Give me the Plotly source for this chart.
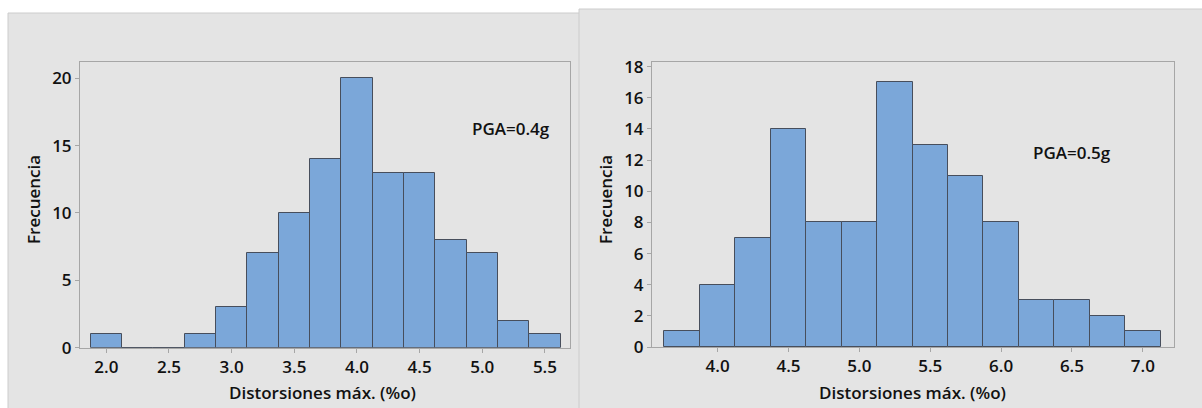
import plotly.graph_objects as go

W, H = 1202, 408

# Data (bin centers, width 0.25)
bins_04 = [2.0, 2.25, 2.5, 2.75, 3.0, 3.25, 3.5, 3.75, 4.0, 4.25, 4.5, 4.75, 5.0, 5.25, 5.5]
freq_04 = [1, 0, 0, 1, 3, 7, 10, 14, 20, 13, 13, 8, 7, 2, 1]
bins_05 = [3.75, 4.0, 4.25, 4.5, 4.75, 5.0, 5.25, 5.5, 5.75, 6.0, 6.25, 6.5, 6.75, 7.0]
freq_05 = [1, 4, 7, 14, 8, 8, 17, 13, 11, 8, 3, 3, 2, 1]
xticks_04 = [2.0, 2.5, 3.0, 3.5, 4.0, 4.5, 5.0, 5.5]
xticks_05 = [4.0, 4.5, 5.0, 5.5, 6.0, 6.5, 7.0]
yticks_04 = [0, 5, 10, 15, 20]
yticks_05 = [0, 2, 4, 6, 8, 10, 12, 14, 16, 18]
bin_width = 0.25
x_title = "Distorsiones máx. (%o)"
y_title = "Frecuencia"
labels = ["PGA=0.4g", "PGA=0.5g"]

FONT = "Open Sans"
bar_fill = "#7ba7d9"
bar_line = "#474e5c"
text_col = "#111111"

fig = go.Figure()
fig.add_trace(go.Bar(x=bins_04, y=freq_04, width=bin_width, marker=dict(color=bar_fill, line=dict(color=bar_line, width=1)),
                     xaxis="x", yaxis="y", showlegend=False, hoverinfo="x+y"))
fig.add_trace(go.Bar(x=bins_05, y=freq_05, width=bin_width, marker=dict(color=bar_fill, line=dict(color=bar_line, width=1)),
                     xaxis="x2", yaxis="y2", showlegend=False, hoverinfo="x+y"))

def px(v):
    return v / W

def py(v):
    return (H - v) / H

tickfont = dict(family=FONT, size=17, color=text_col, weight=600)
common_x = dict(showgrid=False, zeroline=False, showline=True, mirror=True, linecolor="#a6a6a6", linewidth=1,
                ticks="outside", ticklen=4, tickcolor="#a6a6a6", tickfont=tickfont, automargin=False, fixedrange=True)

lab_font = dict(family=FONT, size=17, color=text_col, weight=600)

fig.update_layout(
    width=W, height=H,
    margin=dict(l=0, r=0, t=0, b=0, pad=0),
    paper_bgcolor="white", plot_bgcolor="white",
    bargap=0,
    xaxis=dict(domain=[px(80), px(570)], range=[1.79, 5.70], tickvals=xticks_04,
               ticktext=[f"{v:.1f}" for v in xticks_04], anchor="y", **common_x),
    yaxis=dict(domain=[py(347.7), py(62)], range=[0, 21.2], tickvals=yticks_04, anchor="x", **common_x),
    xaxis2=dict(domain=[px(652), px(1174)], range=[3.537, 7.22], tickvals=xticks_05,
                ticktext=[f"{v:.1f}" for v in xticks_05], anchor="y2", **common_x),
    yaxis2=dict(domain=[py(347), py(62)], range=[0, 18.3], tickvals=yticks_05, anchor="x2", **common_x),
    shapes=[
        dict(type="rect", xref="paper", yref="paper", x0=px(8), x1=px(600), y0=-0.1, y1=py(13),
             fillcolor="#e4e4e4", line=dict(color="#cccccc", width=1), layer="below"),
        dict(type="rect", xref="paper", yref="paper", x0=px(579), x1=1.1, y0=-0.1, y1=py(9),
             fillcolor="#e4e4e4", line=dict(color="#cccccc", width=1), layer="below"),
    ],
    annotations=[
        dict(text=x_title, xref="paper", yref="paper", x=px(322), y=py(392), showarrow=False,
             font=lab_font, xanchor="center", yanchor="middle"),
        dict(text=x_title, xref="paper", yref="paper", x=px(912), y=py(392), showarrow=False,
             font=lab_font, xanchor="center", yanchor="middle"),
        dict(text=y_title, xref="paper", yref="paper", x=px(33), y=py(200), showarrow=False, textangle=-90,
             font=lab_font, xanchor="center", yanchor="middle"),
        dict(text=y_title, xref="paper", yref="paper", x=px(605), y=py(200), showarrow=False, textangle=-90,
             font=lab_font, xanchor="center", yanchor="middle"),
        dict(text=labels[0], xref="x", yref="y", x=5.23, y=16.3, showarrow=False,
             font=lab_font, xanchor="center", yanchor="middle"),
        dict(text=labels[1], xref="x2", yref="y2", x=6.5, y=12.46, showarrow=False,
             font=lab_font, xanchor="center", yanchor="middle"),
    ],
)

fig.write_html("out.html", config={"displayModeBar": False},
               post_script="document.body.style.margin='0';document.body.style.overflow='hidden';")
